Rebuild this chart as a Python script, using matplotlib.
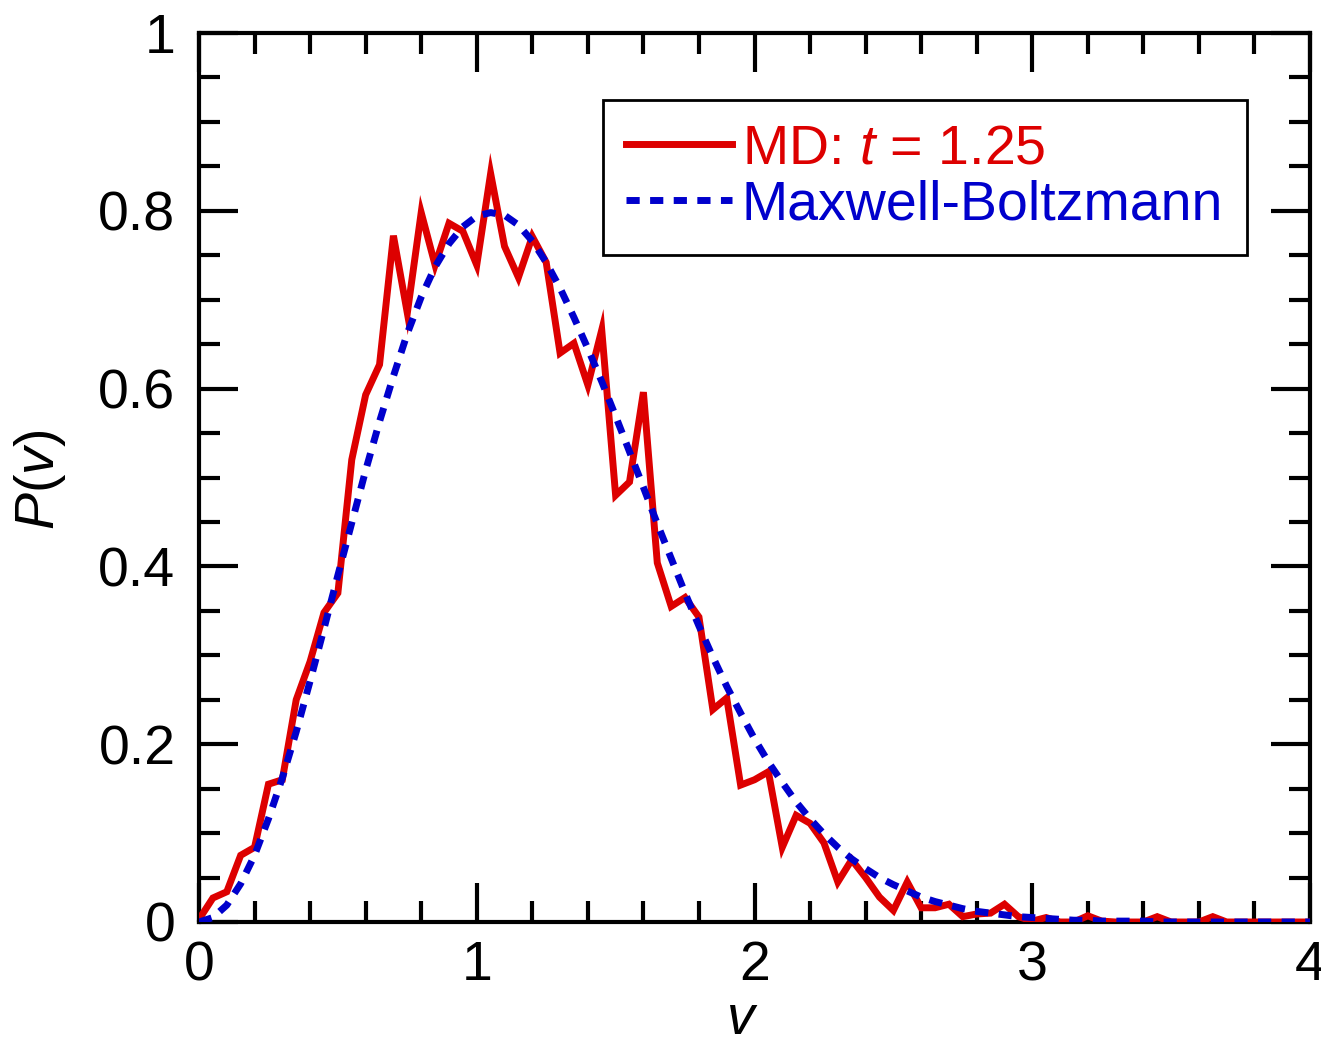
import numpy as np
import matplotlib
matplotlib.use("Agg")
import matplotlib.pyplot as plt
from matplotlib.ticker import MultipleLocator

# ---- data ----
v = [round(0.05 * i, 2) for i in range(81)]

md_p = [0.003, 0.027, 0.034, 0.075, 0.084, 0.155, 0.160, 0.250, 0.293, 0.348,
        0.370, 0.520, 0.593, 0.627, 0.772, 0.685, 0.798, 0.739, 0.786, 0.777,
        0.739, 0.842, 0.760, 0.725, 0.771, 0.742, 0.640, 0.651, 0.604, 0.666,
        0.480, 0.495, 0.596, 0.404, 0.355, 0.365, 0.343, 0.239, 0.252, 0.154,
        0.160, 0.169, 0.084, 0.120, 0.111, 0.089, 0.045, 0.070, 0.050, 0.028,
        0.013, 0.045, 0.016, 0.016, 0.020, 0.006, 0.009, 0.010, 0.020, 0.006,
        0.001, 0.005, 0.000, 0.000, 0.007, 0.001, 0.000, 0.000, 0.000, 0.006,
        0.000, 0.000, 0.000, 0.006, 0.000, 0.000, 0.000, 0.000, 0.000, 0.000,
        0.000]

mb_p = [0.000, 0.005, 0.019, 0.043, 0.075, 0.116, 0.162, 0.214, 0.271, 0.330,
        0.390, 0.449, 0.508, 0.563, 0.614, 0.662, 0.703, 0.737, 0.763, 0.782,
        0.794, 0.798, 0.795, 0.784, 0.766, 0.742, 0.713, 0.680, 0.645, 0.608,
        0.569, 0.529, 0.489, 0.448, 0.409, 0.370, 0.333, 0.298, 0.265, 0.235,
        0.206, 0.180, 0.157, 0.135, 0.116, 0.099, 0.084, 0.071, 0.060, 0.050,
        0.042, 0.035, 0.028, 0.023, 0.019, 0.015, 0.012, 0.010, 0.008, 0.006,
        0.005, 0.004, 0.003, 0.002, 0.002, 0.001, 0.001, 0.001, 0.001, 0.000,
        0.000, 0.000, 0.000, 0.000, 0.000, 0.000, 0.000, 0.000, 0.000, 0.000,
        0.000]

x_ticks = [0, 1, 2, 3, 4]
x_ticklabels = ["0", "1", "2", "3", "4"]
y_ticks = [0, 0.2, 0.4, 0.6, 0.8, 1.0]
y_ticklabels = ["0", "0.2", "0.4", "0.6", "0.8", "1"]

label_md = "MD: $t$ = 1.25"
label_mb = "Maxwell-Boltzmann"

# ---- style ----
plt.rcParams['font.family'] = ['Liberation Sans', 'DejaVu Sans']
plt.rcParams['mathtext.fontset'] = 'custom'
plt.rcParams['mathtext.rm'] = 'Liberation Sans'
plt.rcParams['mathtext.it'] = 'Liberation Sans:italic'

RED = '#dd0000'
BLUE = '#0000cc'
FS = 40

fig = plt.figure(figsize=(13.21, 10.37), dpi=100)
ax = fig.add_axes([199 / 1321, 1 - 922 / 1037, 1111 / 1321, 889 / 1037])

ax.plot(v, md_p, color=RED, lw=5, solid_joinstyle='miter', label=label_md, zorder=3)
ax.plot(v, mb_p, color=BLUE, lw=5, dashes=(1.9, 1.5), label=label_mb, zorder=4)

ax.set_xlim(0, 4)
ax.set_ylim(0, 1)
ax.set_xticks(x_ticks)
ax.set_xticklabels(x_ticklabels)
ax.set_yticks(y_ticks)
ax.set_yticklabels(y_ticklabels)
ax.xaxis.set_minor_locator(MultipleLocator(0.2))
ax.yaxis.set_minor_locator(MultipleLocator(0.05))

ax.tick_params(which='both', direction='in', top=True, right=True, width=3, colors='black')
ax.tick_params(which='major', length=28, labelsize=FS)
ax.tick_params(which='minor', length=15)
ax.tick_params(axis='x', which='major', pad=13)
ax.tick_params(axis='y', which='major', pad=17)
for s in ax.spines.values():
    s.set_linewidth(3)

ax.set_xlabel("$v$", fontsize=FS)
ax.set_ylabel("$P$($v$)", fontsize=FS)
ax.xaxis.set_label_coords(0.489, -0.081)
ax.yaxis.set_label_coords(-0.118, 0.497)

leg = ax.legend(loc='upper right', bbox_to_anchor=(0.943, 0.925), borderaxespad=0,
                fontsize=FS, frameon=True, fancybox=False, framealpha=1,
                edgecolor='black', handlelength=1.9, handletextpad=0.18,
                labelspacing=0.08, borderpad=0.42)
leg.get_frame().set_linewidth(2)
for txt, c in zip(leg.get_texts(), [RED, BLUE]):
    txt.set_color(c)

fig.savefig("out.png", dpi=100)
